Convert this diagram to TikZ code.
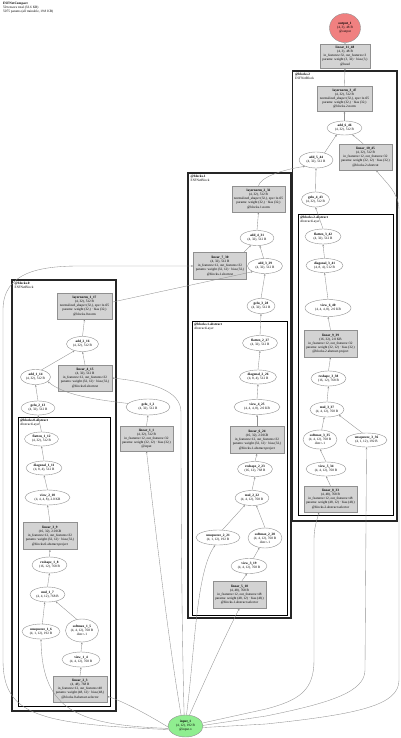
\documentclass[tikz,border=0pt]{standalone}
\usepackage{fontspec}
\setmainfont{Liberation Serif}
\usetikzlibrary{shapes.geometric,arrows.meta}
\definecolor{boxfill}{HTML}{D3D3D3}
\definecolor{edgec}{HTML}{909090}
\definecolor{outfill}{HTML}{F08080}
\definecolor{infill}{HTML}{90EE90}
\tikzset{
  every node/.style={font=\fontsize{3.4}{4.1}\selectfont, align=center},
  opbox/.style n args={3}{rectangle, draw=edgec, fill=boxfill, line width=0.4pt, minimum width=#2, minimum height=#3, inner sep=0.5pt, at={#1}},
  ell/.style n args={2}{ellipse, draw=edgec, fill=white, line width=0.4pt, minimum width=#1, minimum height=#2, inner sep=0pt},
  edge/.style={draw=edgec, line width=0.35pt, -{Stealth[length=2.2pt,width=1.7pt]}},
  outercl/.style={draw=black!85, line width=1.5pt},
  innercl/.style={draw=black, line width=0.8pt},
  cllabel/.style={anchor=north west, align=left, inner sep=0pt},
}
\begin{document}
\begin{tikzpicture}[x=1pt,y=-1pt]
\useasboundingbox (0,0) rectangle (400,738);
% header
\node[cllabel] (hdr) at (3,2) {\textbf{ESFNetCompact}\\50 tensors total (33.6 KB)\\5075 params (all trainable, 19.8 KB)};
% clusters
\draw[outercl] (292.5,71) rectangle (397,521);
\draw[innercl] (298,214) rectangle (393.5,515);
\draw[outercl] (188,173) rectangle (291,618);
\draw[innercl] (192,321) rectangle (287,615);
\draw[outercl] (12,280) rectangle (116,711);
\draw[innercl] (18,417) rectangle (110,706);
\node[cllabel] (lb2) at (295,73) {\textbf{@blocks.2}\\ESFNetBlock};
\node[cllabel] (lb2a) at (300,216) {\textbf{@blocks.2.abstract}\\AbstractLayer};
\node[cllabel] (lb1) at (190.5,175) {\textbf{@blocks.1}\\ESFNetBlock};
\node[cllabel] (lb1a) at (194,323) {\textbf{@blocks.1.abstract}\\AbstractLayer};
\node[cllabel] (lb0) at (14.5,282) {\textbf{@blocks.0}\\ESFNetBlock};
\node[cllabel] (lb0a) at (20,419) {\textbf{@blocks.0.abstract}\\AbstractLayer};

% ---------- input / output
\node[ell={35pt}{22pt}, fill=infill] (in) at (185.5,726) {\textbf{input\_1}\\(4, 12), 192 B\\@input.x};
\node[ell={31pt}{29pt}, fill=outfill] (out) at (345,28) {\textbf{output\_1}\\(4, 3), 48 B\\@output};
\node[opbox={(345,56)}{50pt}{24pt}] (l1148) {\textbf{linear\_11\_48}\\(4, 3), 48 B\\in\_features=32, out\_features=3\\params: weight (3, 32) · bias (3,)\\@head};

% ---------- block 2
\node[opbox={(344.5,98.5)}{55pt}{25pt}] (ln347) {\textbf{layernorm\_3\_47}\\(4, 32), 512 B\\normalized\_shape=(32,), eps=1e-05\\params: weight (32,) · bias (32,)\\@blocks.2.norm};
\node[ell={35pt}{14pt}] (a646) at (344.5,128) {\textbf{add\_6\_46}\\(4, 32), 512 B};
\node[ell={34pt}{16pt}] (a544) at (316,160) {\textbf{add\_5\_44}\\(4, 32), 512 B};
\node[opbox={(365.5,157)}{53pt}{26pt}] (l1045) {\textbf{linear\_10\_45}\\(4, 32), 512 B\\in\_features=12, out\_features=32\\params: weight (32, 12) · bias (32,)\\@blocks.2.shortcut};
\node[ell={28pt}{15pt}] (g443) at (315.5,199.5) {\textbf{gelu\_4\_43}\\(4, 32), 512 B};
\node[ell={36pt}{15pt}] (f342) at (323,236.5) {\textbf{flatten\_3\_42}\\(4, 32), 512 B};
\node[ell={37pt}{14pt}] (d341) at (324.5,265.5) {\textbf{diagonal\_3\_41}\\(4, 8, 4), 512 B};
\node[ell={46pt}{17pt}] (v640) at (328,308) {\textbf{view\_6\_40}\\(4, 4, 4, 8), 2.0 KB};
\node[opbox={(330.5,343.5)}{53pt}{27pt}] (l939) {\textbf{linear\_9\_39}\\(16, 32), 2.0 KB\\in\_features=12, out\_features=32\\params: weight (32, 12) · bias (32,)\\@blocks.2.abstract.project};
\node[ell={35pt}{15pt}] (r338) at (328.5,378.5) {\textbf{reshape\_3\_38}\\(16, 12), 768 B};
\node[ell={34pt}{15pt}] (m337) at (327,409.5) {\textbf{mul\_3\_37}\\(4, 4, 12), 768 B};
\node[ell={34pt}{19pt}] (s335) at (320,439.5) {\textbf{softmax\_3\_35}\\(4, 4, 12), 768 B\\dim=-1};
\node[ell={41pt}{14pt}] (u336) at (366.5,440) {\textbf{unsqueeze\_3\_36}\\(4, 1, 12), 192 B};
\node[ell={40pt}{14pt}] (v534) at (326,469) {\textbf{view\_5\_34}\\(4, 4, 12), 768 B};
\node[opbox={(330.5,499)}{53pt}{26pt}] (l833) {\textbf{linear\_8\_33}\\(4, 48), 768 B\\in\_features=12, out\_features=48\\params: weight (48, 12) · bias (48,)\\@blocks.2.abstract.selector};

% ---------- block 1
\node[opbox={(258.5,199)}{53pt}{26pt}] (ln232) {\textbf{layernorm\_2\_32}\\(4, 32), 512 B\\normalized\_shape=(32,), eps=1e-05\\params: weight (32,) · bias (32,)\\@blocks.1.norm};
\node[ell={34pt}{15pt}] (a431) at (257,238) {\textbf{add\_4\_31}\\(4, 32), 512 B};
\node[opbox={(220,266)}{53pt}{27pt}] (l730) {\textbf{linear\_7\_30}\\(4, 32), 512 B\\in\_features=12, out\_features=32\\params: weight (32, 12) · bias (32,)\\@blocks.1.shortcut};
\node[ell={35pt}{15pt}] (a329) at (265,266) {\textbf{add\_3\_29}\\(4, 32), 512 B};
\node[ell={28pt}{15pt}] (g328) at (261,306) {\textbf{gelu\_3\_28}\\(4, 32), 512 B};
\node[ell={35pt}{15pt}] (f227) at (260,343) {\textbf{flatten\_2\_27}\\(4, 32), 512 B};
\node[ell={37pt}{14pt}] (d226) at (258,377) {\textbf{diagonal\_2\_26}\\(4, 8, 4), 512 B};
\node[ell={46pt}{15pt}] (v425) at (257,407) {\textbf{view\_4\_25}\\(4, 4, 4, 8), 2.0 KB};
\node[opbox={(257,440)}{54pt}{27pt}] (l624) {\textbf{linear\_6\_24}\\(16, 32), 2.0 KB\\in\_features=12, out\_features=32\\params: weight (32, 12) · bias (32,)\\@blocks.1.abstract.project};
\node[ell={35pt}{15pt}] (r223) at (255,469) {\textbf{reshape\_2\_23}\\(16, 12), 768 B};
\node[ell={34pt}{15pt}] (m222) at (252,498) {\textbf{mul\_2\_22}\\(4, 4, 12), 768 B};
\node[ell={44pt}{15pt}] (u221) at (218,537.5) {\textbf{unsqueeze\_2\_21}\\(4, 1, 12), 192 B};
\node[ell={34pt}{20pt}] (s220) at (265,538) {\textbf{softmax\_2\_20}\\(4, 4, 12), 768 B\\dim=-1};
\node[ell={36pt}{15pt}] (v319) at (249,566) {\textbf{view\_3\_19}\\(4, 4, 12), 768 B};
\node[opbox={(239.5,594.5)}{53pt}{27pt}] (l518) {\textbf{linear\_5\_18}\\(4, 48), 768 B\\in\_features=12, out\_features=48\\params: weight (48, 12) · bias (48,)\\@blocks.1.abstract.selector};

% ---------- block 0
\node[opbox={(84.5,306)}{55pt}{26pt}] (ln117) {\textbf{layernorm\_1\_17}\\(4, 32), 512 B\\normalized\_shape=(32,), eps=1e-05\\params: weight (32,) · bias (32,)\\@blocks.0.norm};
\node[ell={32pt}{15pt}] (a216) at (82.5,344) {\textbf{add\_2\_16}\\(4, 32), 512 B};
\node[opbox={(85,378)}{54pt}{26pt}] (l415) {\textbf{linear\_4\_15}\\(4, 32), 512 B\\in\_features=12, out\_features=32\\params: weight (32, 12) · bias (32,)\\@blocks.0.shortcut};
\node[ell={30pt}{15pt}] (a114) at (35.5,377) {\textbf{add\_1\_14}\\(4, 32), 512 B};
\node[ell={34pt}{14pt}] (g213) at (38,408) {\textbf{gelu\_2\_13}\\(4, 32), 512 B};
\node[ell={34pt}{14pt}] (f112) at (41.5,439) {\textbf{flatten\_1\_12}\\(4, 32), 512 B};
\node[ell={36pt}{14pt}] (d111) at (44,468) {\textbf{diagonal\_1\_11}\\(4, 8, 4), 512 B};
\node[ell={45pt}{15pt}] (v210) at (47.5,497.5) {\textbf{view\_2\_10}\\(4, 4, 4, 8), 2.0 KB};
\node[opbox={(50,536)}{54pt}{27pt}] (l39) {\textbf{linear\_3\_9}\\(16, 32), 2.0 KB\\in\_features=12, out\_features=32\\params: weight (32, 12) · bias (32,)\\@blocks.0.abstract.project};
\node[ell={35pt}{16pt}] (r18) at (49.5,565) {\textbf{reshape\_1\_8}\\(16, 12), 768 B};
\node[ell={35pt}{15pt}] (m17) at (47.5,594.5) {\textbf{mul\_1\_7}\\(4, 4, 12), 768 B};
\node[ell={38pt}{15pt}] (u16) at (41,631.5) {\textbf{unsqueeze\_1\_6}\\(4, 1, 12), 192 B};
\node[ell={33pt}{23pt}] (s15) at (82,630.5) {\textbf{softmax\_1\_5}\\(4, 4, 12), 768 B\\dim=-1};
\node[ell={38pt}{15pt}] (v14) at (81,659.5) {\textbf{view\_1\_4}\\(4, 4, 12), 768 B};
\node[opbox={(80,689)}{54pt}{26pt}] (l23) {\textbf{linear\_2\_3}\\(4, 48), 768 B\\in\_features=12, out\_features=48\\params: weight (48, 12) · bias (48,)\\@blocks.0.abstract.selector};

% ---------- stem
\node[ell={44pt}{16pt}] (g12) at (148,407) {\textbf{gelu\_1\_2}\\(4, 32), 512 B};
\node[opbox={(146.5,438.5)}{53pt}{25pt}] (l11) {\textbf{linear\_1\_1}\\(4, 32), 512 B\\in\_features=12, out\_features=32\\params: weight (32, 12) · bias (32,)\\@input};

% ================= edges
% stem
\draw[edge] (in.112) .. controls (168,640) and (152,500) .. (l11.south);
\draw[edge] (l11.north) -- (g12.south);
\draw[edge] (g12.170) .. controls (100,400) and (65,396) .. (a114.-20);
% block 0
\draw[edge] (in.183) .. controls (150,716) and (125,702) .. (l23.-15);
\draw[edge] (l23.north) -- (v14.south);
\draw[edge] (v14.north) -- (s15.south);
\draw[edge] (in.188) .. controls (80,725) and (42,712) .. (u16.south);
\draw[edge] (s15.115) -- (m17.-40);
\draw[edge] (u16.80) -- (m17.250);
\draw[edge] (m17.north) -- (r18.south);
\draw[edge] (r18.north) -- (l39.south);
\draw[edge] (l39.north) -- (v210.south);
\draw[edge] (v210.north) -- (d111.south);
\draw[edge] (d111.north) -- (f112.south);
\draw[edge] (f112.north) -- (g213.south);
\draw[edge] (g213.north) -- (a114.south);
\draw[edge] (a114.50) -- (a216.220);
\draw[edge] (in.97) .. controls (181,600) and (181,450) .. (181,412) .. controls (181,390) and (150,382) .. (l415.east);
\draw[edge] (l415.north) -- (a216.south);
\draw[edge] (a216.north) -- (ln117.south);
\draw[edge] (ln117.8) -- (a329.205);
% block 1
\draw[edge] (in.192) .. controls (40,724) and (3,716) .. (3,660) -- (3,310) .. controls (3,272) and (40,266) .. (80,266) -- (l730.west);
\draw[edge] (in.70) .. controls (205,680) and (228,630) .. (l518.south);
\draw[edge] (l518.80) -- (v319.255);
\draw[edge] (v319.60) -- (s220.240);
\draw[edge] (in.85) .. controls (195,650) and (196,572) .. (u221.250);
\draw[edge] (u221.60) -- (m222.225);
\draw[edge] (s220.north) -- (m222.300);
\draw[edge] (m222.north) -- (r223.south);
\draw[edge] (r223.north) -- (l624.south);
\draw[edge] (l624.north) -- (v425.south);
\draw[edge] (v425.north) -- (d226.south);
\draw[edge] (d226.north) -- (f227.south);
\draw[edge] (f227.north) -- (g328.south);
\draw[edge] (g328.north) -- (a329.south);
\draw[edge] (a329.100) -- (a431.290);
\draw[edge] (l730.30) -- (a431.230);
\draw[edge] (a431.north) -- (ln232.south);
\draw[edge] (ln232.north) .. controls (260,178) and (280,170) .. (a544.210);
% block 2
\draw[edge] (in.10) -- (266,709) .. controls (300,700) and (314,690) .. (314,660) -- (314,540) .. controls (314,527) and (317,520) .. (l833.229);
\draw[edge] (in.2) -- (266,716) .. controls (330,703) and (365,692) .. (365,670) -- (u336.south);
\draw[edge] (in.-5) -- (266,724) .. controls (360,714) and (399,705) .. (399,680) -- (399,210) .. controls (399,192) and (385,182) .. (l1045.-51);
\draw[edge] (l833.north) -- (v534.south);
\draw[edge] (v534.north) -- (s335.south);
\draw[edge] (s335.80) -- (m337.250);
\draw[edge] (u336.120) -- (m337.-25);
\draw[edge] (m337.north) -- (r338.south);
\draw[edge] (r338.north) -- (l939.south);
\draw[edge] (l939.north) -- (v640.south);
\draw[edge] (v640.north) -- (d341.south);
\draw[edge] (d341.north) -- (f342.south);
\draw[edge] (f342.north) -- (g443.south);
\draw[edge] (g443.north) -- (a544.south);
\draw[edge] (a544.40) -- (a646.220);
\draw[edge] (l1045.100) -- (a646.-40);
\draw[edge] (a646.north) -- (ln347.south);
\draw[edge] (ln347.north) -- (l1148.south);
\draw[edge] (l1148.north) -- (out.south);
\end{tikzpicture}
\end{document}
